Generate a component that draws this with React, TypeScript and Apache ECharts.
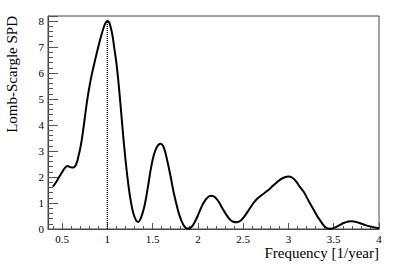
import React, { useEffect, useRef } from "react";
import * as echarts from "echarts";

const freq = [
  0.4, 0.43, 0.46, 0.5, 0.53, 0.56, 0.59, 0.62, 0.645, 0.665, 0.68, 0.7, 0.72, 0.74, 0.76, 0.78, 0.8, 0.82, 0.84, 0.87,
  0.9, 0.93, 0.96, 0.98, 1.0, 1.02, 1.04, 1.06, 1.075, 1.1, 1.12, 1.14, 1.16, 1.18, 1.2, 1.22, 1.24, 1.26, 1.28,
  1.3, 1.32, 1.343, 1.365, 1.39, 1.417, 1.45, 1.48, 1.51, 1.54, 1.565, 1.59, 1.615, 1.64, 1.67, 1.7, 1.73, 1.76, 1.79, 1.82,
  1.85, 1.88, 1.91, 1.94, 1.97, 2.0, 2.04, 2.08, 2.12, 2.155, 2.19, 2.23, 2.27, 2.31, 2.35, 2.39, 2.43, 2.47, 2.51, 2.56,
  2.61, 2.66, 2.71, 2.76, 2.81, 2.86, 2.91, 2.96, 3.0, 3.04, 3.08, 3.12, 3.17, 3.22, 3.277, 3.32, 3.35, 3.38, 3.41, 3.44,
  3.47, 3.51, 3.56, 3.61, 3.66, 3.7, 3.75, 3.8, 3.85, 3.9, 3.95, 4.0,
];
const spd = [
  1.63, 1.78, 1.95, 2.18, 2.34, 2.42, 2.38, 2.36, 2.42, 2.57, 2.78, 3.08, 3.48, 3.97, 4.5, 5.0, 5.42, 5.8, 6.12, 6.57,
  7.0, 7.4, 7.75, 7.92, 8.0, 7.95, 7.72, 7.38, 7.0, 6.4, 5.75, 5.0, 4.2, 3.4, 2.7, 2.05, 1.5, 1.05, 0.7,
  0.47, 0.32, 0.27, 0.38, 0.62, 0.99, 1.65, 2.3, 2.8, 3.1, 3.24, 3.28, 3.2, 2.95, 2.5, 2.0, 1.45, 1.0, 0.6, 0.3,
  0.1, 0.02, 0.03, 0.12, 0.3, 0.52, 0.85, 1.1, 1.25, 1.28, 1.22, 1.05, 0.8, 0.57, 0.38, 0.28, 0.26, 0.32, 0.47, 0.72,
  0.98, 1.18, 1.32, 1.45, 1.6, 1.76, 1.9, 1.99, 2.02, 1.98, 1.85, 1.65, 1.42, 1.1, 0.75, 0.48, 0.33, 0.18, 0.07, 0.02,
  0.01, 0.05, 0.14, 0.23, 0.29, 0.3, 0.27, 0.21, 0.15, 0.1, 0.06, 0.03,
];
const peakLine = [
  [1.0, 0],
  [1.0, 8.0],
];
const xMajorTicks = [0.5, 1, 1.5, 2, 2.5, 3, 3.5, 4];
const xMinorTicks = [
  0.4, 0.5, 0.6, 0.7, 0.8, 0.9, 1.0, 1.1, 1.2, 1.3, 1.4, 1.5, 1.6, 1.7, 1.8, 1.9, 2.0, 2.1, 2.2, 2.3, 2.4, 2.5, 2.6, 2.7,
  2.8, 2.9, 3.0, 3.1, 3.2, 3.3, 3.4, 3.5, 3.6, 3.7, 3.8, 3.9, 4.0,
];
const xTitle = "Frequency [1/year]";
const yTitle = "Lomb-Scargle SPD";

const FONT = "'Liberation Serif', 'DejaVu Serif', serif";

export default function App() {
  const ref = useRef<HTMLDivElement>(null);
  useEffect(() => {
    if (!ref.current) return;
    const chart = echarts.init(ref.current, null, { renderer: "svg" });
    const xMin = 0.345;
    const xMax = 4;
    chart.setOption({
      animation: false,
      backgroundColor: "#fff",
      textStyle: { fontFamily: FONT },
      grid: {
        left: 48,
        right: 36,
        top: 16,
        bottom: 39,
        show: true,
        borderColor: "#444",
        borderWidth: 1,
        backgroundColor: "transparent",
      },
      xAxis: [
        {
          type: "value",
          min: xMin,
          max: xMax,
          axisLine: { show: true, lineStyle: { color: "#444", width: 1 } },
          axisTick: {
            show: true,
            inside: true,
            length: 6,
            customValues: xMajorTicks,
            lineStyle: { color: "#555", width: 1 },
          },
          axisLabel: {
            show: true,
            customValues: xMajorTicks,
            margin: 4,
            color: "#000",
            fontFamily: FONT,
            fontSize: 11,
            formatter: (v: number) => String(v),
          },
          splitLine: { show: false },
        },
        {
          type: "value",
          min: xMin,
          max: xMax,
          position: "bottom",
          axisLine: { show: false },
          axisTick: {
            show: true,
            inside: true,
            length: 3,
            customValues: xMinorTicks,
            lineStyle: { color: "#555", width: 1 },
          },
          axisLabel: { show: false },
          splitLine: { show: false },
        },
      ],
      yAxis: {
        type: "value",
        min: 0,
        max: 8.19,
        interval: 1,
        axisLine: { show: true, lineStyle: { color: "#444", width: 1 } },
        axisTick: { show: true, inside: true, length: 10, lineStyle: { color: "#555", width: 1 } },
        minorTick: { show: true, splitNumber: 5, length: 5, lineStyle: { color: "#555", width: 1 } },
        axisLabel: {
          margin: 4,
          color: "#000",
          fontFamily: FONT,
          fontSize: 11,
          showMaxLabel: false,
        },
        splitLine: { show: false },
        minorSplitLine: { show: false },
      },
      graphic: [
        {
          type: "text",
          right: 36,
          top: 245,
          style: { text: xTitle, fontFamily: FONT, fontSize: 15, fill: "#000" },
        },
        {
          type: "text",
          x: 4,
          y: 16,
          rotation: Math.PI / 2,
          style: {
            text: yTitle,
            fontFamily: FONT,
            fontSize: 15,
            fill: "#000",
            align: "right",
            verticalAlign: "top",
          },
        },
      ],
      series: [
        {
          type: "line",
          xAxisIndex: 0,
          data: peakLine,
          symbol: "none",
          lineStyle: { color: "#000", width: 1.3, type: [1, 1] },
          silent: true,
        },
        {
          type: "line",
          xAxisIndex: 0,
          data: freq.map((f, i) => [f, spd[i]]),
          symbol: "none",
          smooth: 0.3,
          lineStyle: { color: "#000", width: 2 },
          silent: true,
        },
      ],
    });
    return () => chart.dispose();
  }, []);
  return <div ref={ref} style={{ width: 415, height: 268, position: "absolute", left: 0, top: 0 }} />;
}
